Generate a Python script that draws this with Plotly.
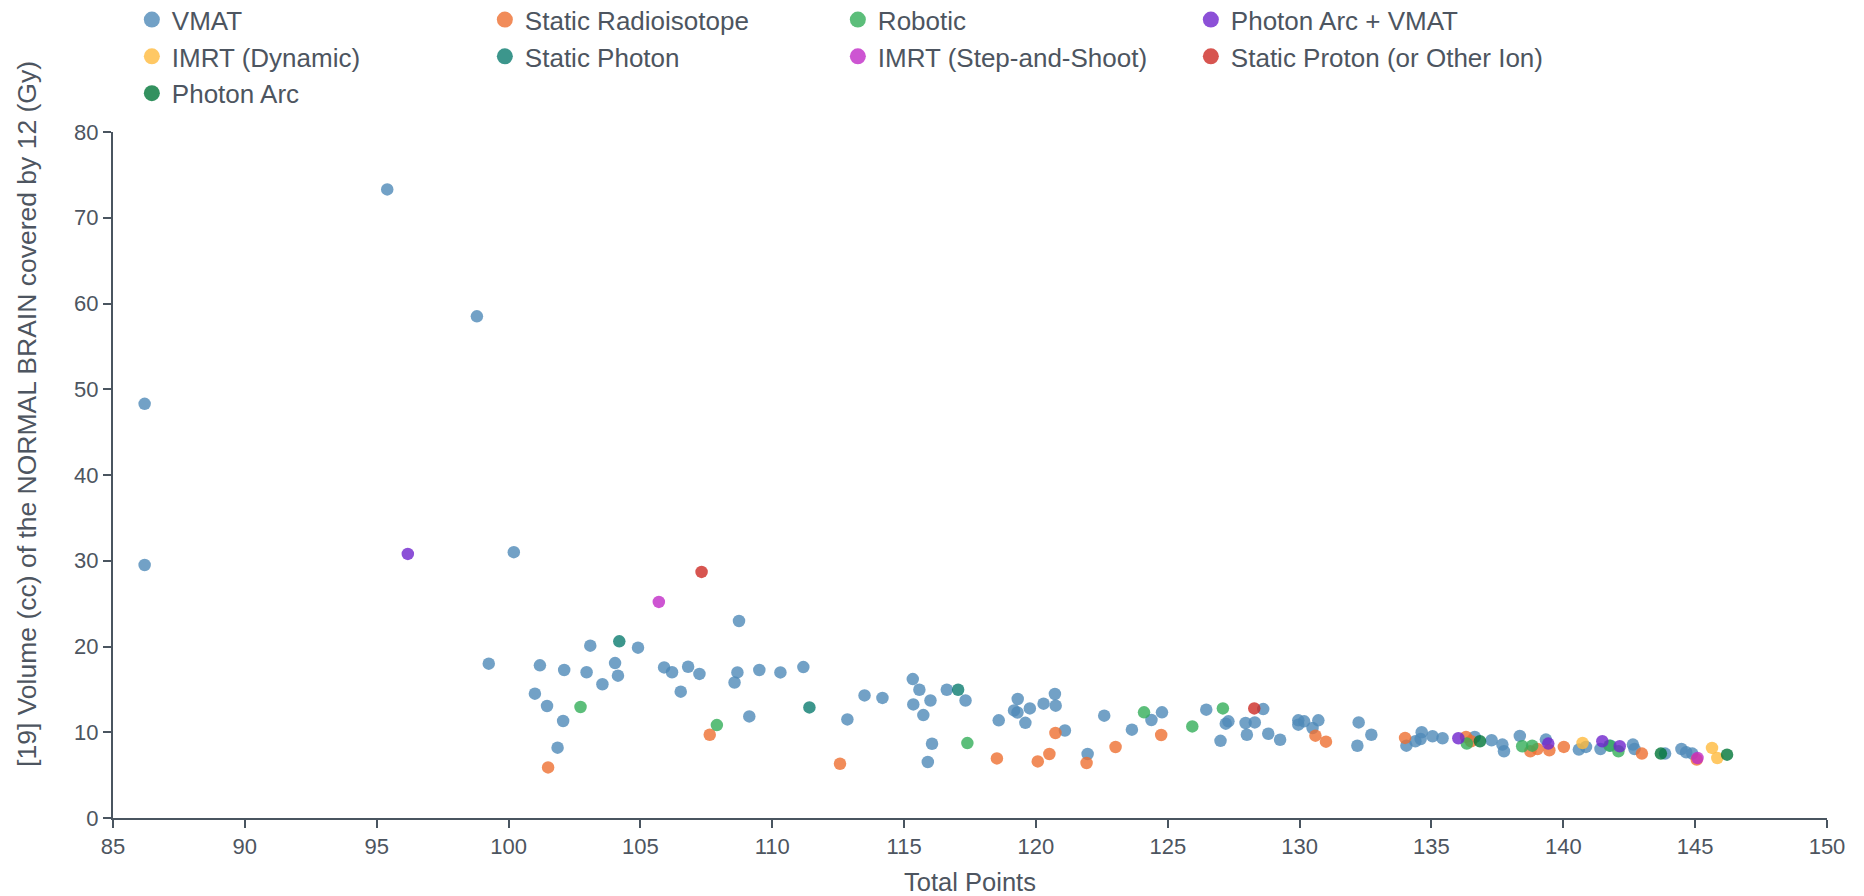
import plotly.graph_objects as go

# ---------------- data ----------------
series_names = [
    "VMAT", "Static Radioisotope", "Robotic", "Photon Arc + VMAT",
    "IMRT (Dynamic)", "Static Photon", "IMRT (Step-and-Shoot)",
    "Static Proton (or Other Ion)", "Photon Arc",
]

vmat_x = [86.2, 86.2, 95.4, 98.8, 100.2, 99.25, 101.19, 101.0, 101.46, 102.11, 102.07, 101.86,
          103.10, 102.96, 103.56, 104.04, 104.15, 104.91, 105.9, 106.2, 106.53, 106.81, 107.24,
          108.74, 108.68, 108.57, 109.13, 109.51, 110.31, 111.18, 112.85, 113.5, 114.18,
          115.33, 115.58, 115.35, 116.0, 115.73, 116.06, 115.9, 116.62, 117.33,
          118.59, 119.31, 119.17, 119.3, 119.77, 119.6, 120.29, 120.72, 120.75, 121.1, 121.96,
          122.59, 123.64, 124.38, 124.78, 126.46, 127.0, 127.2, 127.3, 127.95, 128.0, 128.3,
          128.62, 128.81, 129.26, 129.95, 129.95, 130.17, 130.49, 130.71, 132.24, 132.19, 132.72,
          134.05, 134.39, 134.63, 134.59, 135.04, 135.42, 136.64, 137.28, 137.69, 137.75,
          138.35, 139.34, 140.59, 140.86, 141.41, 141.79, 142.64, 142.7, 143.86, 144.48,
          144.66, 144.89]
vmat_y = [48.3, 29.5, 73.3, 58.5, 31.0, 18.0, 17.8, 14.5, 13.06, 17.26, 11.31, 8.2,
          20.1, 17.0, 15.6, 18.07, 16.6, 19.86, 17.56, 17.0, 14.73, 17.64, 16.8,
          22.97, 16.98, 15.8, 11.85, 17.26, 16.98, 17.6, 11.5, 14.3, 14.0,
          16.2, 14.96, 13.25, 13.7, 12.0, 8.66, 6.53, 14.96, 13.7,
          11.39, 13.88, 12.55, 12.3, 12.78, 11.1, 13.33, 14.46, 13.1, 10.2, 7.46,
          11.93, 10.3, 11.43, 12.32, 12.63, 9.0, 11.0, 11.27, 11.08, 9.71, 11.15,
          12.7, 9.83, 9.13, 11.39, 10.88, 11.27, 10.5, 11.39, 11.15, 8.43, 9.71,
          8.44, 8.95, 10.0, 9.2, 9.53, 9.3, 9.45, 9.07, 8.56, 7.78,
          9.57, 9.14, 7.98, 8.29, 8.05, 8.44, 8.56, 8.05, 7.51, 8.05,
          7.67, 7.51]

radio_x = [101.5, 107.63, 112.57, 118.52, 120.07, 120.51, 120.74, 121.92, 123.02, 124.75,
           130.6, 131.0, 134.0, 136.31, 136.5, 138.75, 139.02, 139.47, 140.02, 142.98, 145.06]
radio_y = [5.9, 9.71, 6.33, 6.95, 6.6, 7.46, 9.91, 6.41, 8.28, 9.68,
           9.6, 8.9, 9.34, 9.46, 8.95, 7.78, 8.05, 7.9, 8.29, 7.51, 6.81]

robotic_x = [102.73, 107.9, 117.4, 124.1, 125.93, 127.09, 136.34, 138.44, 138.82, 141.75, 142.09]
robotic_y = [12.94, 10.84, 8.74, 12.32, 10.68, 12.78, 8.68, 8.37, 8.44, 8.44, 7.78]

arcvmat_x = [96.18, 136.02, 139.43, 141.48, 142.14]
arcvmat_y = [30.8, 9.3, 8.68, 8.95, 8.37]

imrt_dyn_x = [140.73, 145.64, 145.84]
imrt_dyn_y = [8.75, 8.17, 7.0]

static_photon_x = [104.2, 111.41, 117.05]
static_photon_y = [20.6, 12.9, 14.96]

imrt_ss_x = [105.7, 145.09]
imrt_ss_y = [25.2, 7.0]

proton_x = [107.32, 128.28]
proton_y = [28.7, 12.78]

photon_arc_x = [136.84, 143.7, 146.21]
photon_arc_y = [8.95, 7.51, 7.39]

series_x = [vmat_x, radio_x, robotic_x, arcvmat_x, imrt_dyn_x, static_photon_x,
            imrt_ss_x, proton_x, photon_arc_x]
series_y = [vmat_y, radio_y, robotic_y, arcvmat_y, imrt_dyn_y, static_photon_y,
            imrt_ss_y, proton_y, photon_arc_y]

colors = ["#4f89b8", "#ed6f31", "#33ae59", "#6f24cd", "#ffba3d",
          "#0b7c6f", "#c12ac7", "#cd2a24", "#007637"]

x_ticks = list(range(85, 151, 5))
y_ticks = list(range(0, 81, 10))

x_title = "Total Points"
y_title = "[19] Volume (cc) of the NORMAL BRAIN covered by 12 (Gy)"

# ---------------- figure ----------------
FONT = "Liberation Sans, Arial, sans-serif"
AXIS_COLOR = "#4a5560"
TEXT_COLOR = "#4d5560"

fig = go.Figure()
# data markers
for name, xs, ys, c in zip(series_names, series_x, series_y, colors):
    fig.add_trace(go.Scatter(
        x=xs, y=ys, mode="markers", name=name, showlegend=False, legendgroup=name,
        marker=dict(size=12.5, color=c, opacity=0.8, line=dict(width=0)),
    ))
# legend entries (larger symbols, no marks in the plot)
for name, c in zip(series_names, colors):
    fig.add_trace(go.Scatter(
        x=[None], y=[None], mode="markers", name=name, legendgroup=name,
        marker=dict(size=16, color=c, opacity=0.8, line=dict(width=0)),
    ))

fig.add_annotation(
    text=y_title, textangle=-90, showarrow=False,
    xref="paper", yref="paper", x=-0.0502, y=0.589,
    xanchor="center", yanchor="middle",
    font=dict(size=26.5, color=TEXT_COLOR, family=FONT),
)

fig.update_layout(
    width=1864, height=896,
    margin=dict(l=113, r=37, t=132, b=78, autoexpand=False),
    paper_bgcolor="white", plot_bgcolor="white",
    font=dict(family=FONT, color=TEXT_COLOR, size=22),
    showlegend=True,
    legend=dict(
        orientation="h", xref="paper", yref="paper",
        x=0.011, xanchor="left", y=1.198, yanchor="top",
        entrywidth=308, entrywidthmode="pixels",
        font=dict(size=26, color=TEXT_COLOR, family=FONT),
        bgcolor="rgba(0,0,0,0)", tracegroupgap=0,
    ),
    xaxis=dict(
        range=[85, 150], tickvals=x_ticks, ticktext=[str(v) for v in x_ticks],
        showgrid=False, zeroline=False, showline=True, linecolor=AXIS_COLOR, linewidth=2,
        ticks="outside", ticklen=8, tickwidth=2, tickcolor=AXIS_COLOR,
        tickfont=dict(size=22, color=TEXT_COLOR),
        title=dict(text=x_title, font=dict(size=25.5, color=TEXT_COLOR), standoff=15),
    ),
    yaxis=dict(
        range=[0, 80], tickvals=y_ticks, ticktext=[str(v) for v in y_ticks],
        showgrid=False, zeroline=False, showline=True, linecolor=AXIS_COLOR, linewidth=2,
        ticks="outside", ticklen=8, tickwidth=2, tickcolor=AXIS_COLOR,
        tickfont=dict(size=22, color=TEXT_COLOR),
    ),
)

fig.write_html("out.html")
